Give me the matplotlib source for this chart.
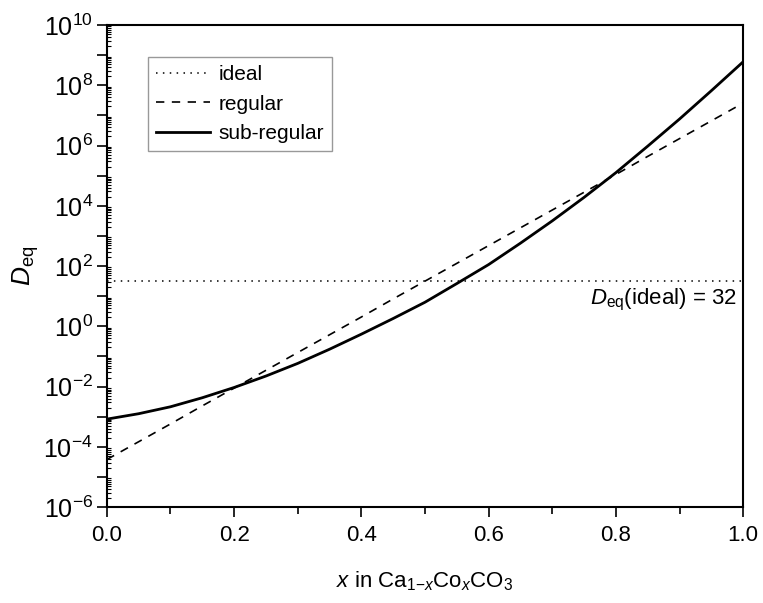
import matplotlib
matplotlib.use('Agg')
import matplotlib.pyplot as plt
import numpy as np
from matplotlib.ticker import LogLocator, FuncFormatter, MultipleLocator, NullFormatter

plt.rcParams['font.family'] = ['Liberation Sans', 'DejaVu Sans']
plt.rcParams['mathtext.fontset'] = 'custom'
plt.rcParams['mathtext.rm'] = 'Liberation Sans'
plt.rcParams['mathtext.it'] = 'Liberation Sans:italic'

# mole fraction of Co, read at 0.05 steps
x = [0.0, 0.05, 0.1, 0.15, 0.2, 0.25, 0.3, 0.35, 0.4, 0.45, 0.5,
     0.55, 0.6, 0.65, 0.7, 0.75, 0.8, 0.85, 0.9, 0.95, 1.0]

# log10 D_eq
log_regular = [-4.42, -3.83, -3.24, -2.64, -2.05, -1.46, -0.87, -0.28, 0.31, 0.91, 1.50,
               2.09, 2.68, 3.27, 3.86, 4.45, 5.04, 5.64, 6.23, 6.82, 7.41]
log_subregular = [-3.08, -2.90, -2.67, -2.37, -2.03, -1.65, -1.23, -0.76, -0.26, 0.26, 0.80,
                  1.42, 2.05, 2.76, 3.50, 4.28, 5.10, 5.98, 6.88, 7.82, 8.78]
d_ideal = 32

regular = 10 ** np.array(log_regular)
subregular = 10 ** np.array(log_subregular)
ideal = [d_ideal] * len(x)

fig = plt.figure(figsize=(7.63, 6.03), dpi=100)
ax = fig.add_axes([0.140, 0.159, 0.834, 0.7995])

ax.plot(x, ideal, color='black', lw=1.1, linestyle=(0, (1, 3.5)), label='ideal')
ax.plot(x, regular, color='black', lw=1.2, linestyle=(0, (5, 4.5)), label='regular')
ax.plot(x, subregular, color='black', lw=2.0, label='sub-regular')

ax.set_yscale('log')
ax.set_xlim(0, 1)
ax.set_ylim(1e-6, 1e10)

ax.xaxis.set_major_locator(MultipleLocator(0.2))
ax.xaxis.set_minor_locator(MultipleLocator(0.1))
ax.xaxis.set_major_formatter(FuncFormatter(lambda v, p: '%.1f' % v))

ax.yaxis.set_major_locator(LogLocator(base=10, numticks=40))
ax.yaxis.set_minor_locator(LogLocator(base=10, subs=np.arange(2, 10), numticks=40))
ax.yaxis.set_minor_formatter(NullFormatter())


def ylab(v, pos):
    e = int(round(np.log10(v)))
    if e % 2:
        return ''
    return r'$\mathregular{10^{%d}}$' % e


ax.yaxis.set_major_formatter(FuncFormatter(ylab))

ax.tick_params(axis='both', which='major', direction='out', length=7, width=1.2,
               top=False, right=False)
ax.tick_params(axis='x', which='major', labelsize=16, pad=6)
ax.tick_params(axis='y', which='major', labelsize=18, pad=3)
ax.tick_params(axis='x', which='minor', direction='out', length=5, width=1.2,
               top=False)
ax.tick_params(axis='y', which='minor', direction='in', length=3, width=0.8,
               right=False)
for s in ax.spines.values():
    s.set_linewidth(1.5)

ax.set_ylabel(r'$\mathit{D}_\mathrm{eq}$', fontsize=19, labelpad=2)
ax.set_xlabel(r'$\mathit{x}$ in Ca$_{1\mathrm{-}\mathit{x}}$Co$_{\mathit{x}}$CO$_3$',
              fontsize=16, labelpad=17)

ax.annotate(r'$\mathit{D}_\mathrm{eq}$(ideal) = 32', xy=(0.99, d_ideal), xytext=(0, -4),
            textcoords='offset points', ha='right', va='top', fontsize=16)

leg = ax.legend(loc='upper left', bbox_to_anchor=(0.064, 0.934), borderaxespad=0,
                fontsize=15, fancybox=False, handlelength=2.6, handletextpad=0.4,
                labelspacing=0.5, borderpad=0.4)
leg.get_frame().set_edgecolor('#808080')
leg.get_frame().set_linewidth(1.0)

fig.savefig('out.png', dpi=100, facecolor='white')
